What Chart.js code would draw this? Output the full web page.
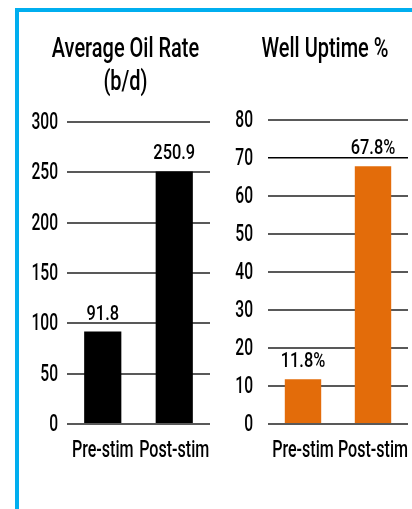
<!DOCTYPE html>
<html lang="en">
<head>
<meta charset="UTF-8">
<title>Stimulation Results</title>
<style>
  html, body { margin: 0; padding: 0; background: #fff; }
  body { width: 412px; height: 509px; overflow: hidden; position: relative; }
  .frame { position: absolute; left: 15px; top: 8px; width: 420px; height: 520px;
           border-top: 4px solid #00AEEF; border-left: 4px solid #00AEEF; }
  .box { position: absolute; top: 12px; height: 460px; }
  #oilBox { left: 20px; width: 195px; }
  #uptimeBox { left: 215px; width: 205px; }
</style>
</head>
<body>
<div class="frame"></div>
<div class="box" id="oilBox"><canvas id="oilChart"></canvas></div>
<div class="box" id="uptimeBox"><canvas id="uptimeChart"></canvas></div>

<script src="https://cdn.jsdelivr.net/npm/chart.js@4.4.1/dist/chart.umd.min.js"></script>
<script>
// data
const categories = ['Pre-stim', 'Post-stim'];
const oilRate = [91.8, 250.9];
const uptimePct = [11.8, 67.8];

const FONT = "Roboto, 'Noto Sans', sans-serif";
const GRID = '#595959';

// no condensed font installed, so squeeze the text horizontally
function narrowText(ctx, text, x, y, size, sx, align, baseline) {
    ctx.save();
    ctx.translate(x, y);
    ctx.scale(sx, 1);
    ctx.font = `500 ${size}px ${FONT}`;
    ctx.fillStyle = '#000';
    ctx.textAlign = align;
    ctx.textBaseline = baseline;
    ctx.fillText(text, 0, 0);
    ctx.restore();
}

// titles, tick labels and bar values
const textPlugin = {
    id: 'narrowLabels',
    afterDraw(chart, args, opts) {
        const ctx = chart.ctx;
        const area = chart.chartArea;
        const xs = chart.scales.x;
        const ys = chart.scales.y;

        opts.title.forEach((line, i) => {
            narrowText(ctx, line, (area.left + area.right) / 2 - 13, 45 + i * 33, 27, 0.74, 'center', 'alphabetic');
        });

        ys.ticks.forEach(t => {
            narrowText(ctx, String(t.value), area.left - opts.tickGap, ys.getPixelForValue(t.value) + 1, 24, 0.65, 'right', 'middle');
        });

        chart.data.labels.forEach((lab, i) => {
            narrowText(ctx, lab, xs.getPixelForValue(i), area.bottom + 33, 24, 0.67, 'center', 'alphabetic');
        });

        const meta = chart.getDatasetMeta(0);
        meta.data.forEach((bar, i) => {
            const v = chart.data.datasets[0].data[i];
            narrowText(ctx, v.toFixed(1) + opts.suffix, bar.x, bar.y - 12, 21, 0.78, 'center', 'alphabetic');
        });
    }
};

function makeChart(id, values, color, max, step, yWidth, pad, title, suffix, tickGap) {
    return new Chart(document.getElementById(id), {
        type: 'bar',
        data: {
            labels: categories,
            datasets: [{
                data: values,
                backgroundColor: color,
                categoryPercentage: 1,
                barPercentage: 0.52
            }]
        },
        options: {
            responsive: true,
            maintainAspectRatio: false,
            animation: false,
            layout: { padding: pad },
            plugins: {
                legend: { display: false },
                tooltip: { enabled: false },
                narrowLabels: { title: title, suffix: suffix, tickGap: tickGap }
            },
            scales: {
                x: {
                    grid: { display: false },
                    border: { display: false },
                    ticks: { display: false },
                    afterFit: s => { s.height = 48; }
                },
                y: {
                    min: 0,
                    max: max,
                    border: { display: false },
                    grid: {
                        drawTicks: false,
                        color: c => (suffix && c.tick && c.tick.value === 70) ? '#000' : GRID,
                        lineWidth: c => (suffix && c.tick && c.tick.value === 70) ? 1.5 : 2
                    },
                    ticks: { stepSize: step, display: false },
                    afterFit: s => { s.width = yWidth; }
                }
            }
        },
        plugins: [textPlugin]
    });
}

makeChart('oilChart', oilRate, '#000000', 300, 50, 47,
    { top: 110, right: 5, left: 0, bottom: 0 }, ['Average Oil Rate', '(b/d)'], '', 9);
makeChart('uptimeChart', uptimePct, '#E36C0A', 80, 10, 53,
    { top: 108, right: 12, left: 0, bottom: 0 }, ['Well Uptime %'], '%', 15);
</script>
</body>
</html>
